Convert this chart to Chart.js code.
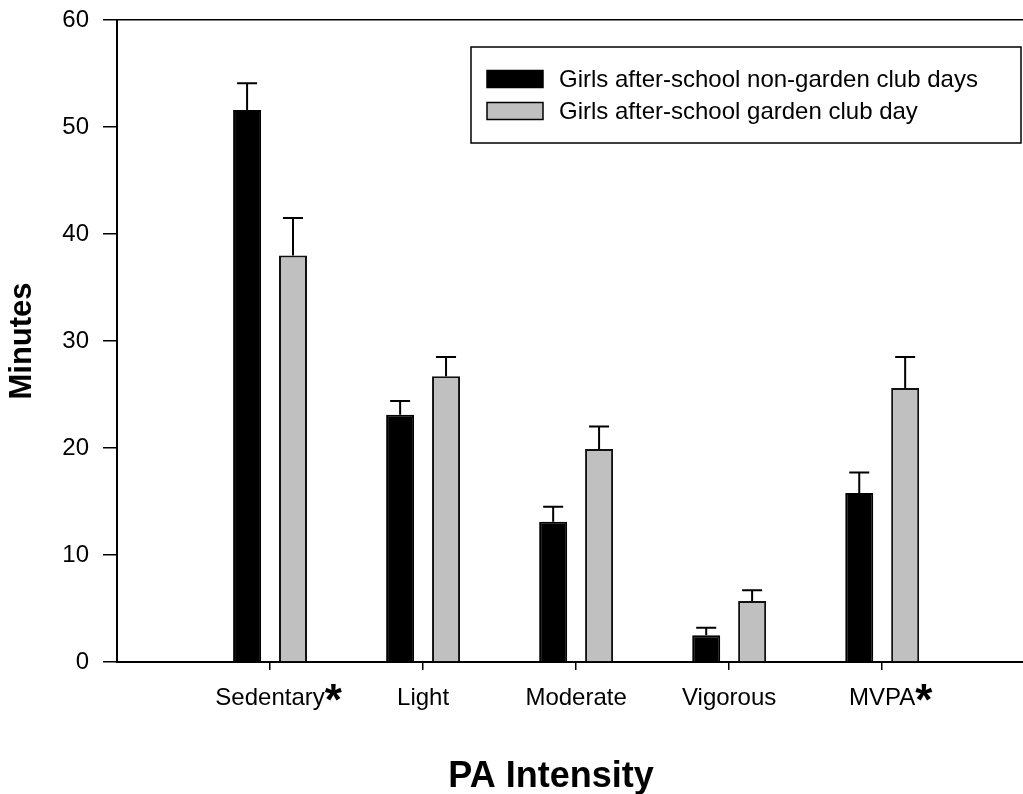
<!DOCTYPE html>
<html>
<head>
<meta charset="utf-8">
<script src="https://cdn.jsdelivr.net/npm/chart.js@4.4.1/dist/chart.umd.min.js"></script>
<style>
  html, body { margin: 0; padding: 0; background: #fff; overflow: hidden; }
  #wrap { width: 1023px; height: 794px; }
</style>
</head>
<body>
<div id="wrap"><canvas id="chart"></canvas></div>
<script>
  // Values (minutes, mean + SE)
  const categories = ["Sedentary", "Light", "Moderate", "Vigorous", "MVPA"];
  const significant = [true, false, false, false, true];
  const nonGardenMeans = [51.6, 23.1, 13.1, 2.5, 15.8];
  const nonGardenErrors = [2.5, 1.3, 1.4, 0.7, 1.9];
  const gardenMeans = [38.0, 26.7, 19.9, 5.7, 25.6];
  const gardenErrors = [3.5, 1.8, 2.1, 1.0, 2.9];
  const yTicks = [0, 10, 20, 30, 40, 50, 60];
  const xTitle = "PA Intensity";

  const FONT = "'Liberation Sans', Arial, sans-serif";

  function toPoints(values) {
    return values.map((v, i) => ({ x: i + 1, y: v }));
  }

  // upward error bars with caps
  const errorBars = {
    id: "errorBars",
    afterDatasetsDraw(chart) {
      const ctx = chart.ctx;
      const yScale = chart.scales.y;
      ctx.save();
      ctx.strokeStyle = "#000";
      ctx.lineWidth = 2;
      chart.data.datasets.forEach((ds, i) => {
        const meta = chart.getDatasetMeta(i);
        meta.data.forEach((bar, j) => {
          const top = yScale.getPixelForValue(ds.data[j].y + ds.errors[j]);
          ctx.beginPath();
          ctx.moveTo(bar.x, bar.y);
          ctx.lineTo(bar.x, top);
          ctx.moveTo(bar.x - 10, top);
          ctx.lineTo(bar.x + 10, top);
          ctx.stroke();
        });
      });
      ctx.restore();
    },
  };

  // bold asterisks after the significant category labels + x axis title
  const sigMarks = {
    id: "sigMarks",
    afterDraw(chart) {
      const ctx = chart.ctx;
      const xScale = chart.scales.x;
      ctx.save();
      ctx.fillStyle = "#000";
      significant.forEach((flag, i) => {
        if (!flag) return;
        const px = xScale.getPixelForValue(i + 1);
        ctx.font = "24px " + FONT;
        const w = ctx.measureText(categories[i]).width;
        ctx.font = "bold 44px " + FONT;
        ctx.textAlign = "left";
        ctx.textBaseline = "alphabetic";
        ctx.fillText("*", px + w / 2, xScale.top + 53);
      });
      ctx.font = "bold 36px " + FONT;
      ctx.textAlign = "center";
      ctx.textBaseline = "middle";
      ctx.fillText(xTitle, xScale.left + 434, xScale.bottom - 17);
      ctx.restore();
    },
  };

  // boxed legend inside the plot area
  const boxLegend = {
    id: "boxLegend",
    afterDraw(chart) {
      const ctx = chart.ctx;
      const area = chart.chartArea;
      const right = area.right - 2;
      const left = 471;
      const top = area.top + 27;
      const bottom = top + 96;
      ctx.save();
      ctx.fillStyle = "#fff";
      ctx.fillRect(left, top, right - left, bottom - top);
      ctx.strokeStyle = "#000";
      ctx.lineWidth = 1.5;
      ctx.strokeRect(left, top, right - left, bottom - top);
      ctx.font = "24px " + FONT;
      ctx.textBaseline = "middle";
      ctx.textAlign = "left";
      chart.data.datasets.forEach((ds, i) => {
        const cy = top + 32 + i * 32;
        ctx.fillStyle = ds.backgroundColor;
        ctx.fillRect(left + 16, cy - 8.5, 56, 17);
        ctx.strokeStyle = "#000";
        ctx.lineWidth = 1.5;
        ctx.strokeRect(left + 16, cy - 8.5, 56, 17);
        ctx.fillStyle = "#000";
        ctx.fillText(ds.label, left + 88, cy + 1);
      });
      ctx.restore();
    },
  };

  new Chart(document.getElementById("chart"), {
    type: "bar",
    data: {
      datasets: [
        {
          label: "Girls after-school non-garden club days",
          data: toPoints(nonGardenMeans),
          errors: nonGardenErrors,
          backgroundColor: "#000000",
          borderColor: "#000000",
          borderWidth: 2,
        },
        {
          label: "Girls after-school garden club day",
          data: toPoints(gardenMeans),
          errors: gardenErrors,
          backgroundColor: "#c0c0c0",
          borderColor: "#111111",
          borderWidth: 2,
        },
      ],
    },
    options: {
      responsive: true,
      maintainAspectRatio: false,
      animation: false,
      devicePixelRatio: 1,
      categoryPercentage: 0.6,
      barPercentage: 0.61,
      layout: { padding: { top: 20, right: 0, bottom: 0, left: 0 } },
      plugins: {
        legend: { display: false },
        tooltip: { enabled: false },
      },
      scales: {
        x: {
          type: "linear",
          min: 0,
          max: 5.92,
          offset: false,
          afterFit: (scale) => {
            scale.height = 132;
            scale.paddingLeft = 0;
            scale.paddingRight = 0;
          },
          afterBuildTicks: (scale) => {
            scale.ticks = categories.map((c, i) => ({ value: i + 1 }));
          },
          grid: {
            offset: false,
            drawOnChartArea: false,
            tickColor: "#000",
            tickLength: 8,
            lineWidth: 1.5,
          },
          border: { display: true, color: "#000", width: 2 },
          ticks: {
            autoSkip: false,
            maxRotation: 0,
            padding: 14,
            color: "#000",
            font: { family: FONT, size: 24 },
            callback: (v) => categories[v - 1],
          },
        },
        y: {
          min: 0,
          max: 60,
          afterFit: (scale) => {
            scale.width = 117;
            scale.paddingTop = 0;
            scale.paddingBottom = 0;
          },
          afterBuildTicks: (scale) => {
            scale.ticks = yTicks.map((v) => ({ value: v }));
          },
          grid: {
            color: (ctx) => (ctx.tick && ctx.tick.value === 60 ? "#000" : "rgba(0,0,0,0)"),
            tickColor: "#000",
            tickLength: 14,
            lineWidth: 1.5,
          },
          border: { display: true, color: "#000", width: 2 },
          ticks: {
            padding: 14,
            color: "#000",
            font: { family: FONT, size: 24 },
          },
          title: {
            display: true,
            text: "Minutes",
            color: "#000",
            padding: { top: 4, bottom: 0 },
            font: { family: FONT, size: 31, weight: "bold" },
          },
        },
      },
    },
    plugins: [errorBars, sigMarks, boxLegend],
  });
</script>
</body>
</html>
